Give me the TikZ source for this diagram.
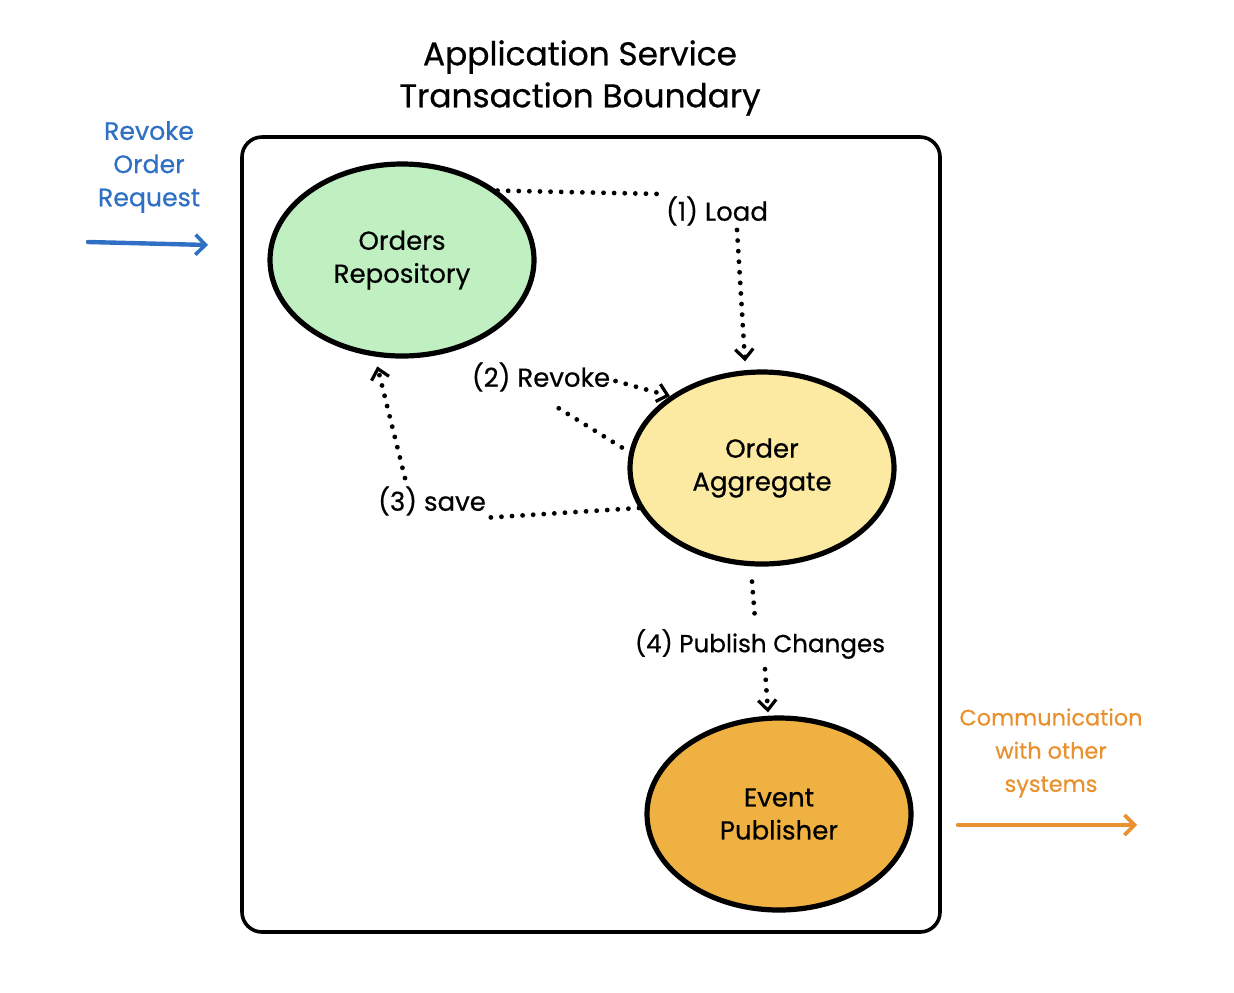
\documentclass[tikz,border=0pt]{standalone}
\usepackage{fontspec}
\setmainfont{Poppins}[FakeBold=0.6]
\usetikzlibrary{shapes.geometric,arrows.meta}
\definecolor{repofill}{HTML}{C0EFC2}
\definecolor{aggfill}{HTML}{FCEAA2}
\definecolor{pubfill}{HTML}{EFB142}
\definecolor{bluetxt}{HTML}{2F6FC4}
\definecolor{orangetxt}{HTML}{E8912E}
\begin{document}
\begin{tikzpicture}[x=0.5pt,y=-0.5pt,
  blob/.style={ellipse, draw=black, line width=2.6pt, minimum width=132pt, minimum height=96pt,
    inner sep=0pt, align=center, font=\fontsize{13}{16.5}\selectfont},
  lbl/.style={inner sep=1pt, font=\fontsize{13}{15}\selectfont},
  dots/.style={line width=2.4pt, line cap=round, dash pattern=on 0pt off 5.3pt, black},
  dotarrow/.style={dots, -{Straight Barb[length=5pt,width=9pt,line width=1.6pt]}},
  sidetxt/.style={align=center, font=\fontsize{12.6}{16.6}\selectfont},
  sidearrow/.style={line width=2.2pt, line cap=round, -{Straight Barb[length=5pt,width=10pt,line width=1.8pt]}},
  framebox/.style={draw=black, line width=1.8pt, rounded corners=10pt, inner sep=0pt}
]
\useasboundingbox (0,0) rectangle (1234,992);

\node[framebox, minimum width=349pt, minimum height=397.5pt] (boundary) at (591,534.5) {};

\node[align=center, font=\fontsize{16.4}{21}\selectfont] (title) at (580,78) {Application Service\\Transaction Boundary};

\node[blob, fill=repofill] (repo) at (402,260) {Orders\\Repository};
\node[blob, fill=aggfill] (agg) at (762,468) {Order\\Aggregate};
\node[blob, fill=pubfill] (pub) at (779,814) {Event\\Publisher};

\node[sidetxt, text=bluetxt] (req) at (149,167) {Revoke\\Order\\Request};
\coordinate (reqA) at (88,242);
\coordinate (reqB) at (208,245);
\draw[sidearrow, bluetxt] (reqA) -- (reqB);

\node[sidetxt, text=orangetxt, font=\fontsize{11.2}{16.6}\selectfont] (comm) at (1051,753) {Communication\\with other\\systems};
\coordinate (commA) at (958,825);
\coordinate (commB) at (1137,825);
\draw[sidearrow, orangetxt] (commA) -- (commB);

\node[lbl] (load) at (717,211) {(1) Load};
\node[lbl] (revoke) at (541,377) {(2) Revoke};
\node[lbl] (save) at (432,501) {(3) save};
\node[lbl, font=\fontsize{12.3}{15}\selectfont] (publish) at (760,644) {(4) Publish Changes};

\draw[dots] (repo.36) -- (load.north west);
\draw[dotarrow] ([shift={(20,2)}]load.south) -- ([shift={(-17,-8)}]agg.north);
\draw[dots] ([shift={(-8,-2)}]agg.172) -- ([shift={(14,12)}]revoke.south);
\draw[dotarrow] ([shift={(3,4)}]revoke.east) -- (agg.142);
\draw[dots] (agg.198) -- ([shift={(-6,0)}]save.south east);
\draw[dotarrow] ([shift={(-27,-6)}]save.north) -- ([shift={(-4,9)}]repo.258);
\draw[dots] ([shift={(-10,15)}]agg.south) -- ([shift={(-5,-8)}]publish.north);
\draw[dotarrow] ([shift={(5,8)}]publish.south) -- ([shift={(-11,-3)}]pub.north);
\end{tikzpicture}
\end{document}
